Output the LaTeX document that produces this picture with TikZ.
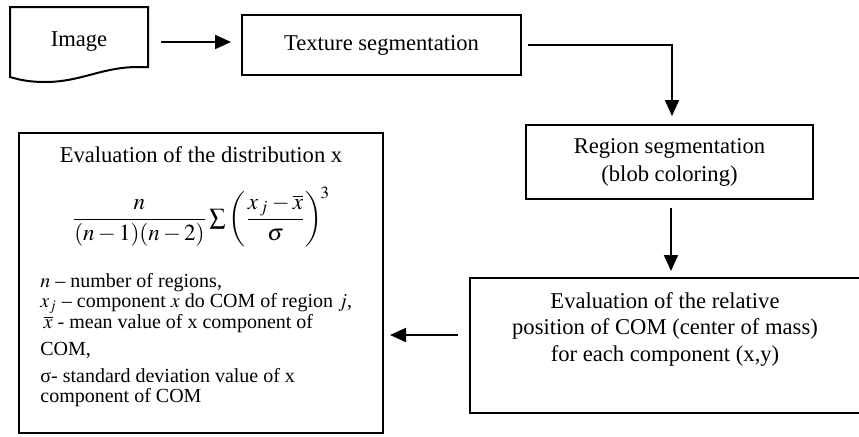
\documentclass[tikz,border=0pt]{standalone}
\usepackage{amsmath}
\usepackage{mathptmx}
\usepackage{fontspec}
\setmainfont{Liberation Serif}
\usepackage{tikz}
\usetikzlibrary{arrows.meta,positioning,calc}

\begin{document}
\begin{tikzpicture}[x=0.5pt,y=-0.5pt,
  blk/.style={draw=black,line width=1pt,align=center,font=\fontsize{11.3}{14}\selectfont,inner sep=0pt},
  arr/.style={-{Triangle[length=8pt,width=7pt]},line width=1pt,black},
  lgd/.style={align=left,font=\fontsize{10}{10.25}\selectfont,inner sep=0pt}]
\useasboundingbox (0,0) rectangle (859,436);
% ---------- top row ----------
\draw[line width=1pt] (10,7) -- (148,7) -- (148,67) -- (135,67)
  .. controls (100,68) and (80,82) .. (45,82)
  .. controls (30,82) and (20,80) .. (10,77) -- cycle;
\node[blk,draw=none,minimum width=69pt,minimum height=35pt] (img) at (79,42) {\raisebox{3pt}{Image}};
\node[blk,minimum width=139.5pt,minimum height=30pt] (tex) at (381.5,45) {\raisebox{1.5pt}{Texture segmentation}};
\node[blk,minimum width=143.5pt,minimum height=37pt] (reg) at (669.5,162) {Region segmentation\\(blob coloring)};
% ---------- bottom row ----------
\node[blk,minimum width=196pt,minimum height=67.5pt] (com) at (666,345.5) {};
\node[blk,draw=none,font=\fontsize{11.3}{13.25}\selectfont] (comtxt) at (665,329) {Evaluation of the relative\\position of COM (center of mass)\\for each component (x,y)};
\node[blk,minimum width=182pt,minimum height=150pt] (dist) at (201,283) {};
\node[blk,draw=none] (disttit) at (201,155) {Evaluation of the distribution x};
\node[blk,draw=none,font=\fontsize{11.5}{14}\selectfont] (form) at (201,217)
  {$\dfrac{n}{(n-1)(n-2)}\textstyle\sum\displaystyle\left(\dfrac{x_{\,j}-\overline{x}}{\sigma}\right)^{\!3}$};
\node[lgd,anchor=north west] (leg) at (40,273) {$n$ -- number of regions,\\
  $x_j$ -- component $x$ do COM of region $j$,\\
  \,$\overline{x}$ - mean value of x component of\\[3.25pt]
  COM,\\[3.25pt]
  σ- standard deviation value of x\\
  component of COM};
% ---------- connectors ----------
\draw[arr,shorten <=6pt,shorten >=5pt] (img.east) -- (tex.west |- img.east);
\draw[arr,shorten <=3pt,shorten >=4pt] (tex.east) -| ([xshift=1.25pt]reg.north);
\draw[arr,shorten <=4pt,shorten >=3pt] ([xshift=0.75pt]reg.south) -- ([xshift=0.75pt]reg.south |- com.north);
\draw[arr,shorten <=5.5pt,shorten >=3pt] ([yshift=5.25pt]com.west) -- ([yshift=5.25pt]com.west -| dist.east);
\end{tikzpicture}
\end{document}
